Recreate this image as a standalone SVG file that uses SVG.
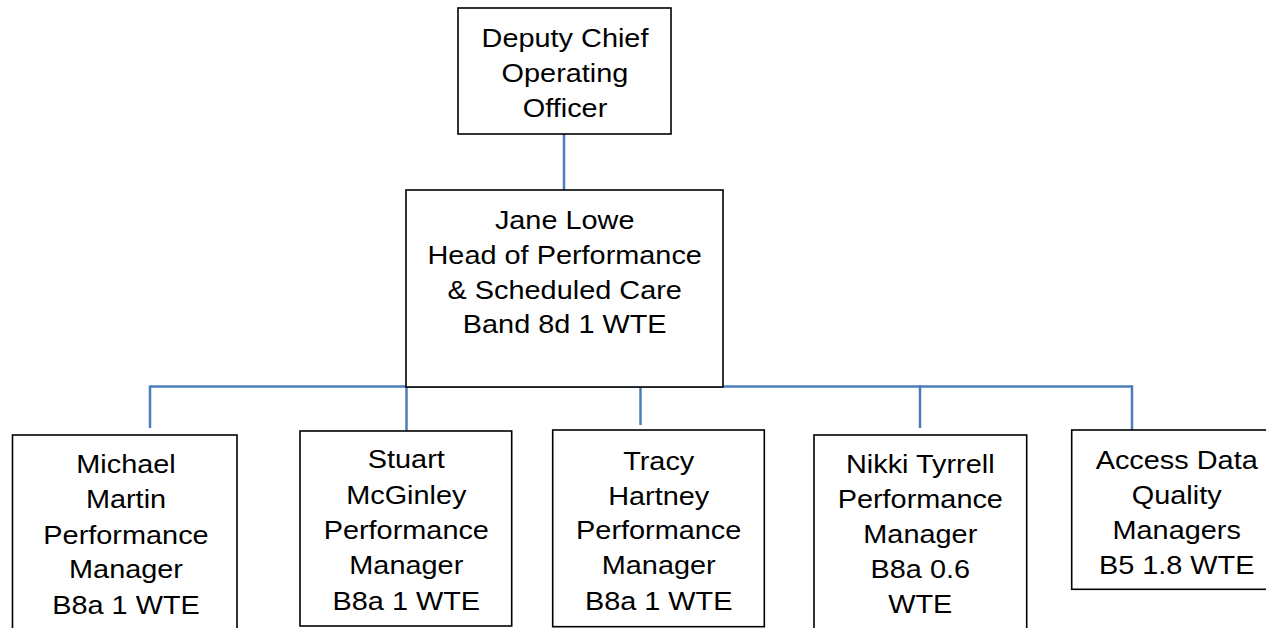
<svg xmlns="http://www.w3.org/2000/svg" width="1266" height="628" viewBox="0 0 1266 628">
<style>
.box{fill:#fff;stroke:#000;stroke-width:1.6}
.conn{stroke:#4a7ebb;stroke-width:2.5;fill:none}
text{font-family:"Liberation Sans",Arial,sans-serif;font-size:26.5px;fill:#000;text-anchor:middle}
</style>
<rect width="1266" height="628" fill="#fff"/>
<g id="connectors">
<line class="conn" x1="564" y1="134" x2="564" y2="190"/>
<line class="conn" x1="150" y1="386.5" x2="1133" y2="386.5"/>
<line class="conn" x1="150" y1="385.5" x2="150" y2="428"/>
<line class="conn" x1="406.5" y1="385.5" x2="406.5" y2="431"/>
<line class="conn" x1="640.5" y1="383" x2="640.5" y2="425"/>
<line class="conn" x1="920" y1="385.5" x2="920" y2="428"/>
<line class="conn" x1="1132" y1="385.5" x2="1132" y2="430"/>
</g>
<g id="deputy">
<rect class="box" x="458" y="8" width="213" height="126"/>
<text transform="translate(565 0) scale(1.09 1)"><tspan x="0" y="47">Deputy Chief</tspan><tspan x="0" y="82">Operating</tspan><tspan x="0" y="117">Officer</tspan></text>
</g>
<g id="jane">
<rect class="box" x="406" y="190" width="317" height="197"/>
<text transform="translate(564.7 0) scale(1.09 1)"><tspan x="0" y="229.3">Jane Lowe</tspan><tspan x="0" y="264">Head of Performance</tspan><tspan x="0" y="299">&amp; Scheduled Care</tspan><tspan x="0" y="333.5">Band 8d 1 WTE</tspan></text>
</g>
<g id="michael">
<rect class="box" x="12.5" y="435" width="224.5" height="200"/>
<text transform="translate(126 0) scale(1.09 1)"><tspan x="0" y="473.5">Michael</tspan><tspan x="0" y="508.5">Martin</tspan><tspan x="0" y="544">Performance</tspan><tspan x="0" y="578.5">Manager</tspan><tspan x="0" y="614">B8a 1 WTE</tspan></text>
</g>
<g id="stuart">
<rect class="box" x="300" y="431" width="211.7" height="195"/>
<text transform="translate(406.3 0) scale(1.09 1)"><tspan x="0" y="468.5">Stuart</tspan><tspan x="0" y="504">McGinley</tspan><tspan x="0" y="539.3">Performance</tspan><tspan x="0" y="574.3">Manager</tspan><tspan x="0" y="610">B8a 1 WTE</tspan></text>
</g>
<g id="tracy">
<rect class="box" x="552.7" y="430" width="211.6" height="196.7"/>
<text transform="translate(658.7 0) scale(1.09 1)"><tspan x="0" y="470">Tracy</tspan><tspan x="0" y="505">Hartney</tspan><tspan x="0" y="539.3">Performance</tspan><tspan x="0" y="574.3">Manager</tspan><tspan x="0" y="610">B8a 1 WTE</tspan></text>
</g>
<g id="nikki">
<rect class="box" x="814" y="435" width="212.7" height="200"/>
<text transform="translate(920.3 0) scale(1.09 1)"><tspan x="0" y="472.7">Nikki Tyrrell</tspan><tspan x="0" y="508.3">Performance</tspan><tspan x="0" y="543.3">Manager</tspan><tspan x="0" y="578.3">B8a 0.6</tspan><tspan x="0" y="613.3">WTE</tspan></text>
</g>
<g id="access">
<rect class="box" x="1071.7" y="430" width="212" height="159.3"/>
<text transform="translate(1176.7 0) scale(1.09 1)"><tspan x="0" y="469">Access Data</tspan><tspan x="0" y="504">Quality</tspan><tspan x="0" y="539.3">Managers</tspan><tspan x="0" y="574.3">B5 1.8 WTE</tspan></text>
</g>
</svg>
